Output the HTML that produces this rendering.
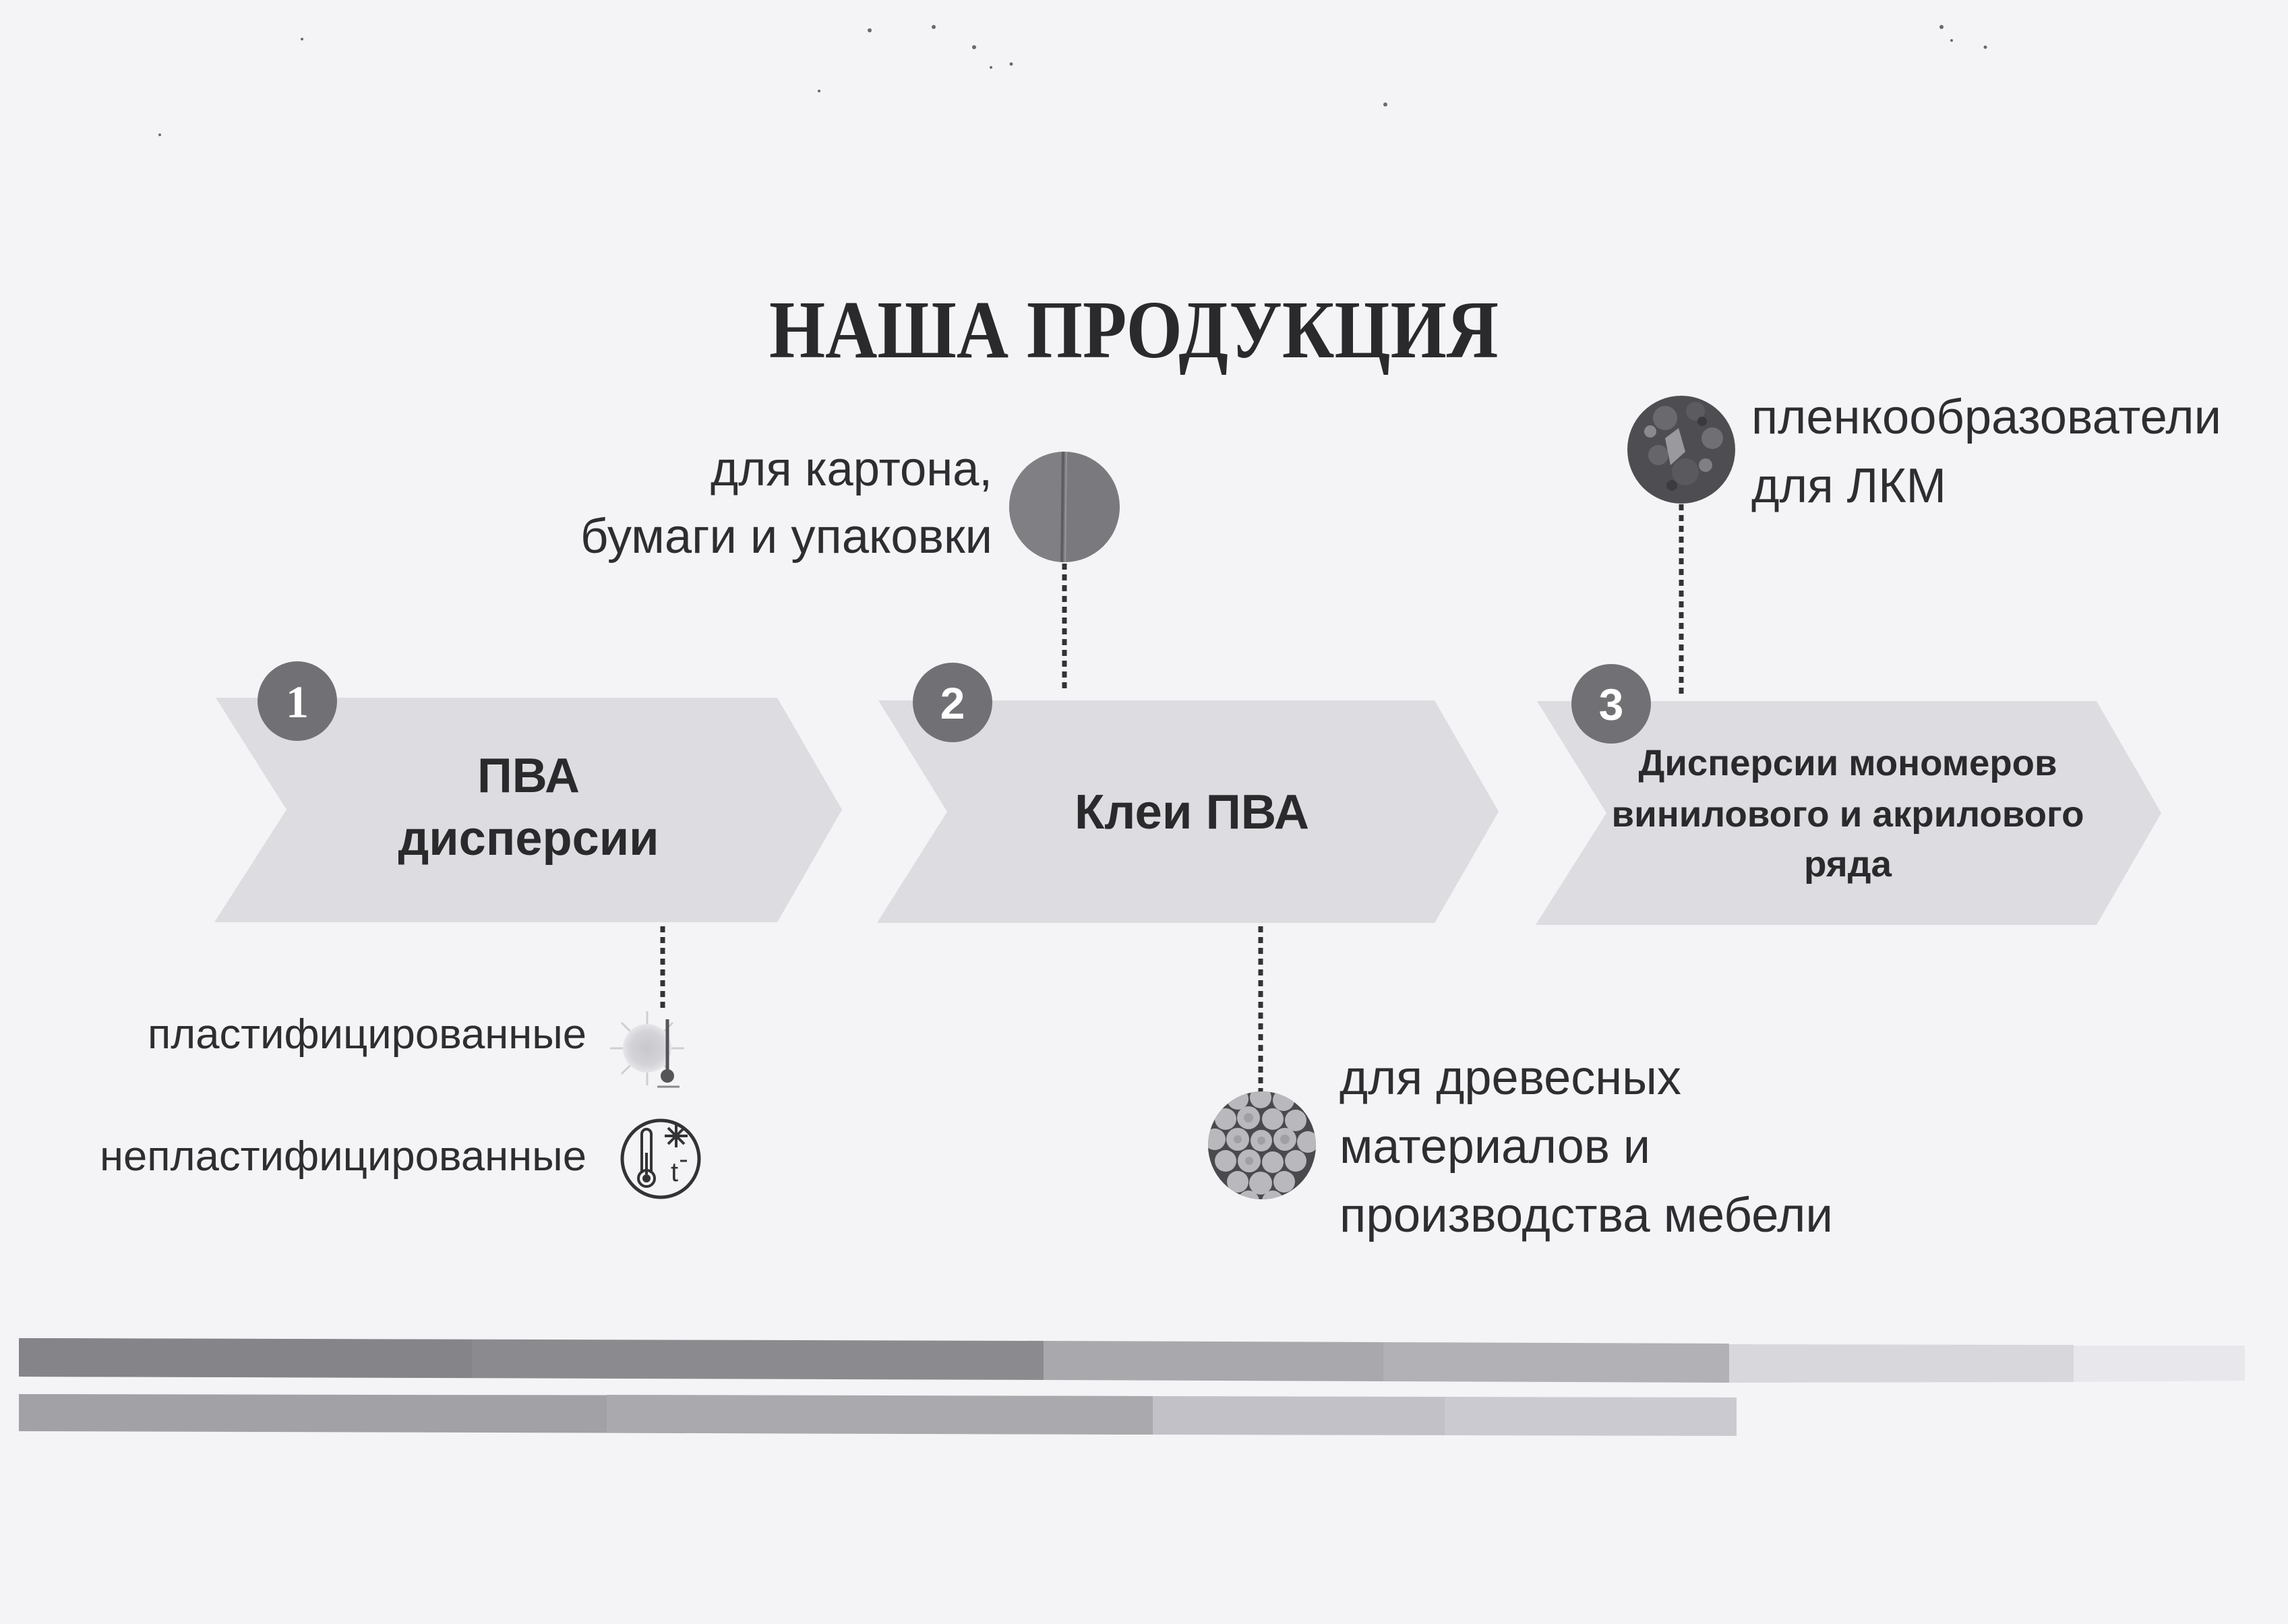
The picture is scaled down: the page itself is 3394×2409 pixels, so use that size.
<!DOCTYPE html>
<html lang="ru">
<head>
<meta charset="utf-8">
<title>НАША ПРОДУКЦИЯ</title>
<style>
  html,body{margin:0;padding:0;background:#f4f4f6;}
  svg{display:block;}
  .lbl{font-family:"Liberation Sans","Noto Sans CJK SC",sans-serif;fill:#2e2e32;}
  .b{font-family:"Liberation Sans","Noto Sans CJK SC",sans-serif;font-weight:bold;fill:#2a2a2c;}
</style>
</head>
<body>
<svg width="3394" height="2409" viewBox="0 0 3394 2409" xmlns="http://www.w3.org/2000/svg">
  <defs>
    <clipPath id="cWood"><circle cx="1872" cy="1699" r="80"/></clipPath>
    <clipPath id="cFilm"><circle cx="2494" cy="667" r="80"/></clipPath>
    <clipPath id="cCard"><circle cx="1579" cy="752" r="82"/></clipPath>
    <radialGradient id="sunG" cx="0.5" cy="0.5" r="0.5">
      <stop offset="0" stop-color="#c8c8cc"/>
      <stop offset="0.7" stop-color="#d4d4d8"/>
      <stop offset="1" stop-color="#e6e6ea"/>
    </radialGradient>
  </defs>

  <rect width="3394" height="2409" fill="#f4f4f6"/>

  <!-- scanner specks -->
  <g fill="#6a6a6e">
    <circle cx="1290" cy="45" r="3"/><circle cx="1385" cy="40" r="3"/><circle cx="1445" cy="70" r="3"/>
    <circle cx="1500" cy="95" r="2.5"/><circle cx="1215" cy="135" r="2"/><circle cx="2055" cy="155" r="3"/>
    <circle cx="2880" cy="40" r="3"/><circle cx="2895" cy="60" r="2"/><circle cx="2945" cy="70" r="2.5"/>
    <circle cx="448" cy="58" r="2"/><circle cx="237" cy="200" r="2"/><circle cx="1470" cy="100" r="2"/>
  </g>

  <!-- Title -->
  <text x="1682" y="530" text-anchor="middle" font-family="Liberation Serif, serif" font-weight="bold" font-size="122" textLength="1082" lengthAdjust="spacingAndGlyphs" fill="#2a2a2c">НАША ПРОДУКЦИЯ</text>

  <!-- Chevrons -->
  <polygon points="320,1035 1153,1035 1249,1201 1153,1368 318,1368 425,1201" fill="#dcdce1"/>
  <polygon points="1303,1039 2128,1039 2223,1204 2128,1369 1301,1369 1405,1204" fill="#dcdce1"/>
  <polygon points="2280,1040 3110,1040 3206,1206 3110,1372 2278,1372 2383,1206" fill="#dcdce1"/>

  <!-- Dotted connectors -->
  <g stroke="#333336" stroke-width="7" stroke-dasharray="9 7" fill="none">
    <line x1="1579" y1="836" x2="1579" y2="1024"/>
    <line x1="983" y1="1374" x2="983" y2="1496"/>
    <line x1="1870" y1="1374" x2="1870" y2="1622"/>
    <line x1="2494" y1="748" x2="2494" y2="1032"/>
  </g>

  <!-- Number circles -->
  <circle cx="441" cy="1040" r="59" fill="#717175"/>
  <circle cx="1413" cy="1042" r="59" fill="#717175"/>
  <circle cx="2390" cy="1044" r="59" fill="#717175"/>
  <text x="441" y="1064" text-anchor="middle" font-family="Liberation Serif, serif" font-weight="bold" font-size="68" fill="#ffffff">1</text>
  <text x="1413" y="1066" text-anchor="middle" font-family="Liberation Sans, sans-serif" font-weight="bold" font-size="66" fill="#ffffff">2</text>
  <text x="2390" y="1068" text-anchor="middle" font-family="Liberation Sans, sans-serif" font-weight="bold" font-size="66" fill="#ffffff">3</text>

  <!-- Arrow labels -->
  <text class="b" x="784" y="1175" text-anchor="middle" font-size="72" textLength="152" lengthAdjust="spacingAndGlyphs">ПВА</text>
  <text class="b" x="784" y="1268" text-anchor="middle" font-size="72" textLength="387" lengthAdjust="spacingAndGlyphs">дисперсии</text>
  <text class="b" x="1768" y="1229" text-anchor="middle" font-size="72" textLength="348" lengthAdjust="spacingAndGlyphs">Клеи ПВА</text>
  <text class="b" x="2741" y="1150" text-anchor="middle" font-size="54" textLength="621" lengthAdjust="spacingAndGlyphs">Дисперсии мономеров</text>
  <text class="b" x="2741" y="1226" text-anchor="middle" font-size="54" textLength="701" lengthAdjust="spacingAndGlyphs">винилового и акрилового</text>
  <text class="b" x="2741" y="1300" text-anchor="middle" font-size="54" textLength="130" lengthAdjust="spacingAndGlyphs">ряда</text>

  <!-- Cardboard photo circle -->
  <g clip-path="url(#cCard)">
    <rect x="1490" y="665" width="180" height="180" fill="#7a7a7e"/>
    <rect x="1490" y="665" width="88" height="180" fill="#808084"/>
    <line x1="1577" y1="665" x2="1575" y2="845" stroke="#5e5e62" stroke-width="4"/>
    <line x1="1582" y1="665" x2="1580" y2="845" stroke="#96969a" stroke-width="2"/>
  </g>
  <text class="lbl" x="1472" y="720" text-anchor="end" font-size="72" textLength="418" lengthAdjust="spacingAndGlyphs">для картона,</text>
  <text class="lbl" x="1472" y="820" text-anchor="end" font-size="72" textLength="611" lengthAdjust="spacingAndGlyphs">бумаги и упаковки</text>

  <!-- Film former photo circle -->
  <g clip-path="url(#cFilm)">
    <rect x="2410" y="583" width="170" height="170" fill="#4e4e52"/>
    <circle cx="2470" cy="620" r="18" fill="#6a6a6e"/>
    <circle cx="2515" cy="610" r="14" fill="#5c5c60"/>
    <circle cx="2540" cy="650" r="16" fill="#707074"/>
    <circle cx="2460" cy="675" r="15" fill="#66666a"/>
    <circle cx="2500" cy="700" r="20" fill="#5a5a5e"/>
    <circle cx="2448" cy="640" r="9" fill="#8a8a8e"/>
    <path d="M2470 650 L2490 635 L2500 670 L2478 690 Z" fill="#9a9a9e"/>
    <circle cx="2530" cy="690" r="10" fill="#808084"/>
    <circle cx="2480" cy="720" r="8" fill="#3c3c40"/>
    <circle cx="2525" cy="625" r="7" fill="#3a3a3e"/>
  </g>
  <text class="lbl" x="2598" y="643" font-size="72" textLength="697" lengthAdjust="spacingAndGlyphs">пленкообразователи</text>
  <text class="lbl" x="2598" y="745" font-size="72" textLength="289" lengthAdjust="spacingAndGlyphs">для ЛКМ</text>

  <!-- Wood logs photo circle -->
  <g clip-path="url(#cWood)">
    <rect x="1790" y="1617" width="165" height="165" fill="#4a4a4e"/>
    <g fill="#b9b9bd">
      <circle cx="1836" cy="1630" r="16"/><circle cx="1870" cy="1628" r="16"/><circle cx="1904" cy="1632" r="16"/>
      <circle cx="1818" cy="1660" r="16"/><circle cx="1852" cy="1658" r="17"/><circle cx="1888" cy="1660" r="16"/><circle cx="1922" cy="1662" r="16"/>
      <circle cx="1802" cy="1690" r="16"/><circle cx="1836" cy="1690" r="17"/><circle cx="1871" cy="1692" r="16"/><circle cx="1906" cy="1690" r="17"/><circle cx="1940" cy="1694" r="16"/>
      <circle cx="1818" cy="1722" r="16"/><circle cx="1853" cy="1722" r="17"/><circle cx="1888" cy="1724" r="16"/><circle cx="1922" cy="1722" r="16"/>
      <circle cx="1836" cy="1753" r="16"/><circle cx="1870" cy="1755" r="17"/><circle cx="1905" cy="1753" r="16"/>
      <circle cx="1852" cy="1782" r="16"/><circle cx="1888" cy="1782" r="16"/>
    </g>
    <g fill="#a0a0a4">
      <circle cx="1852" cy="1658" r="7"/><circle cx="1871" cy="1692" r="6"/><circle cx="1906" cy="1690" r="7"/>
      <circle cx="1853" cy="1722" r="6"/><circle cx="1836" cy="1690" r="6"/>
    </g>
  </g>
  <text class="lbl" x="1987" y="1623" font-size="72" textLength="507" lengthAdjust="spacingAndGlyphs">для древесных</text>
  <text class="lbl" x="1987" y="1725" font-size="72" textLength="461" lengthAdjust="spacingAndGlyphs">материалов и</text>
  <text class="lbl" x="1987" y="1827" font-size="72" textLength="732" lengthAdjust="spacingAndGlyphs">производства мебели</text>

  <!-- Plasticized icon: sun + thermometer -->
  <g>
    <g stroke="#cfcfd3" stroke-width="3">
      <line x1="960" y1="1500" x2="960" y2="1610"/>
      <line x1="905" y1="1555" x2="1015" y2="1555"/>
      <line x1="922" y1="1517" x2="998" y2="1593"/>
      <line x1="922" y1="1593" x2="998" y2="1517"/>
    </g>
    <circle cx="960" cy="1555" r="36" fill="url(#sunG)"/>
    <line x1="990" y1="1512" x2="990" y2="1590" stroke="#555558" stroke-width="5"/>
    <circle cx="990" cy="1596" r="10" fill="#555558"/>
    <line x1="975" y1="1612" x2="1008" y2="1612" stroke="#8a8a8e" stroke-width="3"/>
  </g>
  <text class="lbl" x="870" y="1555" text-anchor="end" font-size="62" textLength="651" lengthAdjust="spacingAndGlyphs">пластифицированные</text>

  <!-- Non-plasticized icon: circle with thermometer, snowflake, t- -->
  <g fill="none" stroke="#333336">
    <circle cx="980" cy="1719" r="57" stroke-width="5"/>
    <path d="M952 1740 L952 1682 A7 7 0 0 1 966 1682 L966 1740" stroke-width="4"/>
    <circle cx="959" cy="1748" r="12" stroke-width="4"/>
    <g stroke-width="4">
      <line x1="1003" y1="1668" x2="1003" y2="1702"/>
      <line x1="986" y1="1685" x2="1020" y2="1685"/>
      <line x1="991" y1="1673" x2="1015" y2="1697"/>
      <line x1="991" y1="1697" x2="1015" y2="1673"/>
    </g>
  </g>
  <circle cx="959" cy="1748" r="6" fill="#333336"/>
  <line x1="959" y1="1710" x2="959" y2="1742" stroke="#333336" stroke-width="4"/>
  <text x="995" y="1752" font-family="Liberation Sans, sans-serif" font-size="40" fill="#333336">t</text>
  <line x1="1009" y1="1722" x2="1019" y2="1722" stroke="#333336" stroke-width="3"/>
  <text class="lbl" x="870" y="1736" text-anchor="end" font-size="62" textLength="722" lengthAdjust="spacingAndGlyphs">непластифицированные</text>

  <!-- Bottom bars -->
  <polygon points="28,1985 1548,1989 1548,2047 28,2042" fill="#8b8b8f"/>
  <polygon points="28,1985 700,1987 700,2044 28,2042" fill="#858589"/>
  <polygon points="1548,1989 2052,1991 2052,2049 1548,2047" fill="#a8a8ad"/>
  <polygon points="2052,1991 2565,1993 2565,2051 2052,2049" fill="#b1b1b6"/>
  <polygon points="2565,1994 3076,1995 3076,2050 2565,2051" fill="#d7d7dc"/>
  <polygon points="3076,1996 3330,1996 3330,2048 3076,2050" fill="#e8e8ec"/>

  <polygon points="28,2068 1710,2071 1710,2128 28,2123" fill="#a1a1a6"/>
  <polygon points="900,2069 1710,2071 1710,2128 900,2125" fill="#a9a9ae"/>
  <polygon points="1710,2071 2143,2072 2143,2129 1710,2128" fill="#c1c1c7"/>
  <polygon points="2143,2072 2576,2073 2576,2130 2143,2129" fill="#cacad0"/>
</svg>
</body>
</html>
